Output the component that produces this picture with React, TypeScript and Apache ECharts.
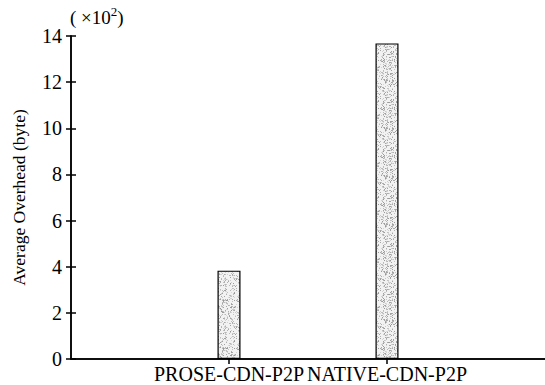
import React, { useEffect, useRef } from "react";
import * as echarts from "echarts";

const categories = ["PROSE-CDN-P2P", "NATIVE-CDN-P2P"];
const categoryPositions = [1, 2];
const overheadValues = [3.83, 13.68]; // ×10² bytes
const yTicks = [0, 2, 4, 6, 8, 10, 12, 14];

const FONT = "'Liberation Serif', 'Times New Roman', serif";

// Stippled grey texture used to fill the bars
function makeStipple(): HTMLCanvasElement {
  const c = document.createElement("canvas");
  c.width = 48;
  c.height = 48;
  const ctx = c.getContext("2d")!;
  ctx.fillStyle = "#f2f2f2";
  ctx.fillRect(0, 0, 48, 48);
  let s = 12345;
  const next = () => {
    s = (s * 1103515245 + 12345) & 0x7fffffff;
    return s / 0x7fffffff;
  };
  for (let y = 0; y < 48; y++) {
    for (let x = 0; x < 48; x++) {
      const r = next();
      if (r < 0.3) {
        const g = 150 + Math.floor(next() * 70);
        ctx.fillStyle = `rgb(${g},${g},${g})`;
        ctx.fillRect(x, y, 1, 1);
      }
    }
  }
  return c;
}

export default function App() {
  const ref = useRef<HTMLDivElement>(null);
  useEffect(() => {
    if (!ref.current) return;
    const chart = echarts.init(ref.current, null, { renderer: "svg" });
    const stipple = makeStipple();
    const axisLine = { show: true, lineStyle: { color: "#000", width: 1.5 } };
    const tick = { show: true, inside: true, length: 5, lineStyle: { color: "#000", width: 1.5 } };
    chart.setOption({
      animation: false,
      backgroundColor: "#fff",
      grid: { left: 71, top: 36, width: 475, height: 323, containLabel: false },
      xAxis: [
        {
          type: "value",
          min: 0,
          max: 3,
          interval: 1,
          position: "bottom",
          axisLine,
          axisTick: { ...tick, customValues: categoryPositions },
          splitLine: { show: false },
          axisLabel: {
            customValues: categoryPositions,
            formatter: (v: number) => categories[categoryPositions.indexOf(v)] ?? "",
            color: "#000",
            fontFamily: FONT,
            fontSize: 20,
            margin: 5,
          },
        },
        {
          type: "value",
          min: 0,
          max: 3,
          interval: 1,
          position: "top",
          axisLine,
          axisTick: { ...tick, customValues: categoryPositions },
          axisLabel: { show: false },
          splitLine: { show: false },
        },
      ],
      yAxis: [
        {
          type: "value",
          min: 0,
          max: 14,
          interval: 2,
          position: "left",
          name: "Average Overhead (byte)",
          nameLocation: "middle",
          nameGap: 43,
          nameTextStyle: { color: "#000", fontFamily: FONT, fontSize: 17.5 },
          axisLine,
          axisTick: tick,
          splitLine: { show: false },
          axisLabel: {
            color: "#000",
            fontFamily: FONT,
            fontSize: 20,
            margin: 9,
            formatter: (v: number) => (yTicks.includes(v) ? String(v) : ""),
          },
        },
        {
          type: "value",
          min: 0,
          max: 14,
          interval: 2,
          position: "right",
          axisLine,
          axisTick: tick,
          axisLabel: { show: false },
          splitLine: { show: false },
        },
      ],
      graphic: [
        {
          type: "text",
          left: 70,
          top: 5,
          style: {
            text: "{n|( ×10}{s|2}{n|)}",
            rich: {
              n: { fontFamily: FONT, fontSize: 19, fill: "#000", verticalAlign: "bottom", lineHeight: 22 },
              s: { fontFamily: FONT, fontSize: 13, fill: "#000", verticalAlign: "top", lineHeight: 22 },
            },
          },
        },
      ],
      series: [
        {
          type: "bar",
          xAxisIndex: 0,
          yAxisIndex: 0,
          barWidth: 23,
          data: categoryPositions.map((x, i) => [x, overheadValues[i]]),
          itemStyle: {
            color: { image: stipple, repeat: "repeat" },
            borderColor: "#000",
            borderWidth: 1.2,
          },
        },
      ],
    });
    return () => chart.dispose();
  }, []);
  return (
    <div
      ref={ref}
      style={{ position: "fixed", left: 0, top: 0, width: 545, height: 385 }}
    />
  );
}
